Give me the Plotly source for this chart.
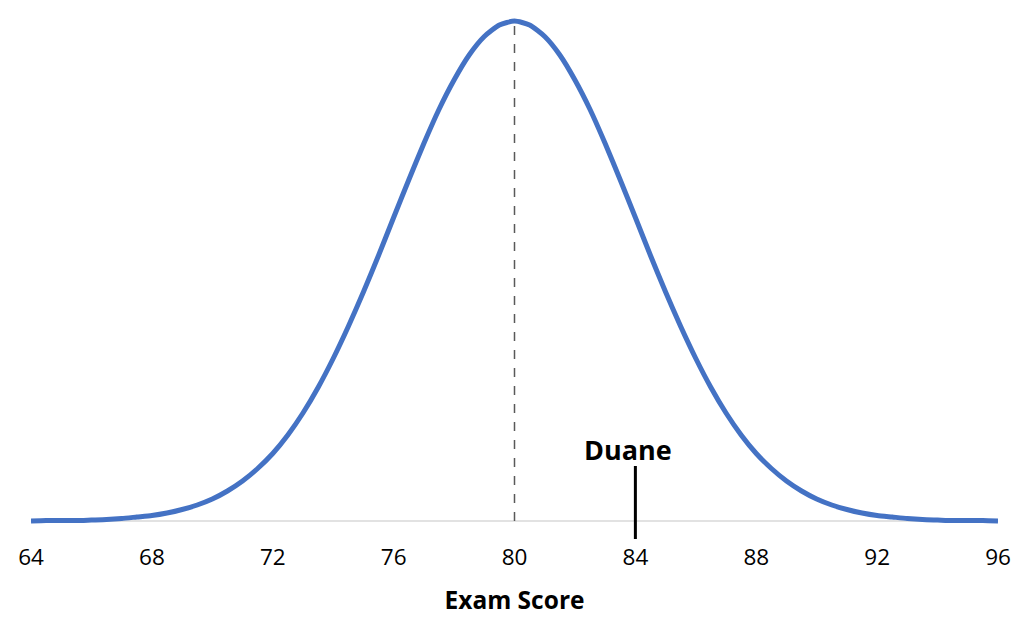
import plotly.graph_objects as go

scores = [64.0, 64.5, 65.0, 65.5, 66.0, 66.5, 67.0, 67.5, 68.0, 68.5, 69.0, 69.5,
          70.0, 70.5, 71.0, 71.5, 72.0, 72.5, 73.0, 73.5, 74.0, 74.5, 75.0, 75.5,
          76.0, 76.5, 77.0, 77.5, 78.0, 78.5, 79.0, 79.5, 80.0, 80.5, 81.0, 81.5,
          82.0, 82.5, 83.0, 83.5, 84.0, 84.5, 85.0, 85.5, 86.0, 86.5, 87.0, 87.5,
          88.0, 88.5, 89.0, 89.5, 90.0, 90.5, 91.0, 91.5, 92.0, 92.5, 93.0, 93.5,
          94.0, 94.5, 95.0, 95.5, 96.0]
heights = [0.000, 0.001, 0.001, 0.001, 0.002, 0.003, 0.005, 0.008, 0.011, 0.016, 0.023, 0.032,
           0.044, 0.060, 0.080, 0.105, 0.135, 0.172, 0.216, 0.267, 0.325, 0.389, 0.458, 0.531,
           0.607, 0.682, 0.755, 0.823, 0.882, 0.932, 0.969, 0.992, 1.000, 0.992, 0.969, 0.932,
           0.882, 0.823, 0.755, 0.682, 0.607, 0.531, 0.458, 0.389, 0.325, 0.267, 0.216, 0.172,
           0.135, 0.105, 0.080, 0.060, 0.044, 0.032, 0.023, 0.016, 0.011, 0.008, 0.005, 0.003,
           0.002, 0.001, 0.001, 0.001, 0.000]
tick_vals = [64, 68, 72, 76, 80, 84, 88, 92, 96]
mean_score = 80
peak_height = 1.0
student_name = "Duane"
student_score = 84

FONT = "'Open Sans', sans-serif"

fig = go.Figure()
fig.add_trace(go.Scatter(x=scores, y=heights, mode="lines",
                         line=dict(color="#4472C4", width=5, shape="spline", smoothing=0.6),
                         hoverinfo="skip", showlegend=False))

# baseline
fig.add_shape(type="line", xref="x", yref="y", x0=63.8, x1=96.2, y0=0, y1=0,
              line=dict(color="#D9D9D9", width=1.5), layer="below")
# mean dashed line
fig.add_shape(type="line", xref="x", yref="y", x0=mean_score, x1=mean_score, y0=0, y1=peak_height,
              line=dict(color="#595959", width=1.5, dash="dash"), layer="above")
# Duane marker
fig.add_shape(type="line", xref="x", yref="y", x0=student_score, x1=student_score, y0=-0.036, y1=0.11,
              line=dict(color="black", width=3))
fig.add_annotation(x=student_score - 0.23, y=0.143, xref="x", yref="y", text="<b>%s</b>" % student_name,
                   showarrow=False, font=dict(family=FONT, size=27, color="black"))

fig.update_layout(
    width=1018, height=641,
    margin=dict(l=31, r=20, t=1, b=100),
    paper_bgcolor="white", plot_bgcolor="white",
    font=dict(family=FONT, color="black"),
    xaxis=dict(range=[64, 96], tickvals=tick_vals, ticktext=[str(v) for v in tick_vals],
               showgrid=False, zeroline=False, showline=False, ticks="",
               tickfont=dict(size=22.5, color="black"),
               title=dict(text="<b>Exam Score</b>", font=dict(size=24.5, color="black"), standoff=21)),
    yaxis=dict(range=[-0.04, 1.04], visible=False, showgrid=False, zeroline=False),
)

fig.write_html("out.html")
